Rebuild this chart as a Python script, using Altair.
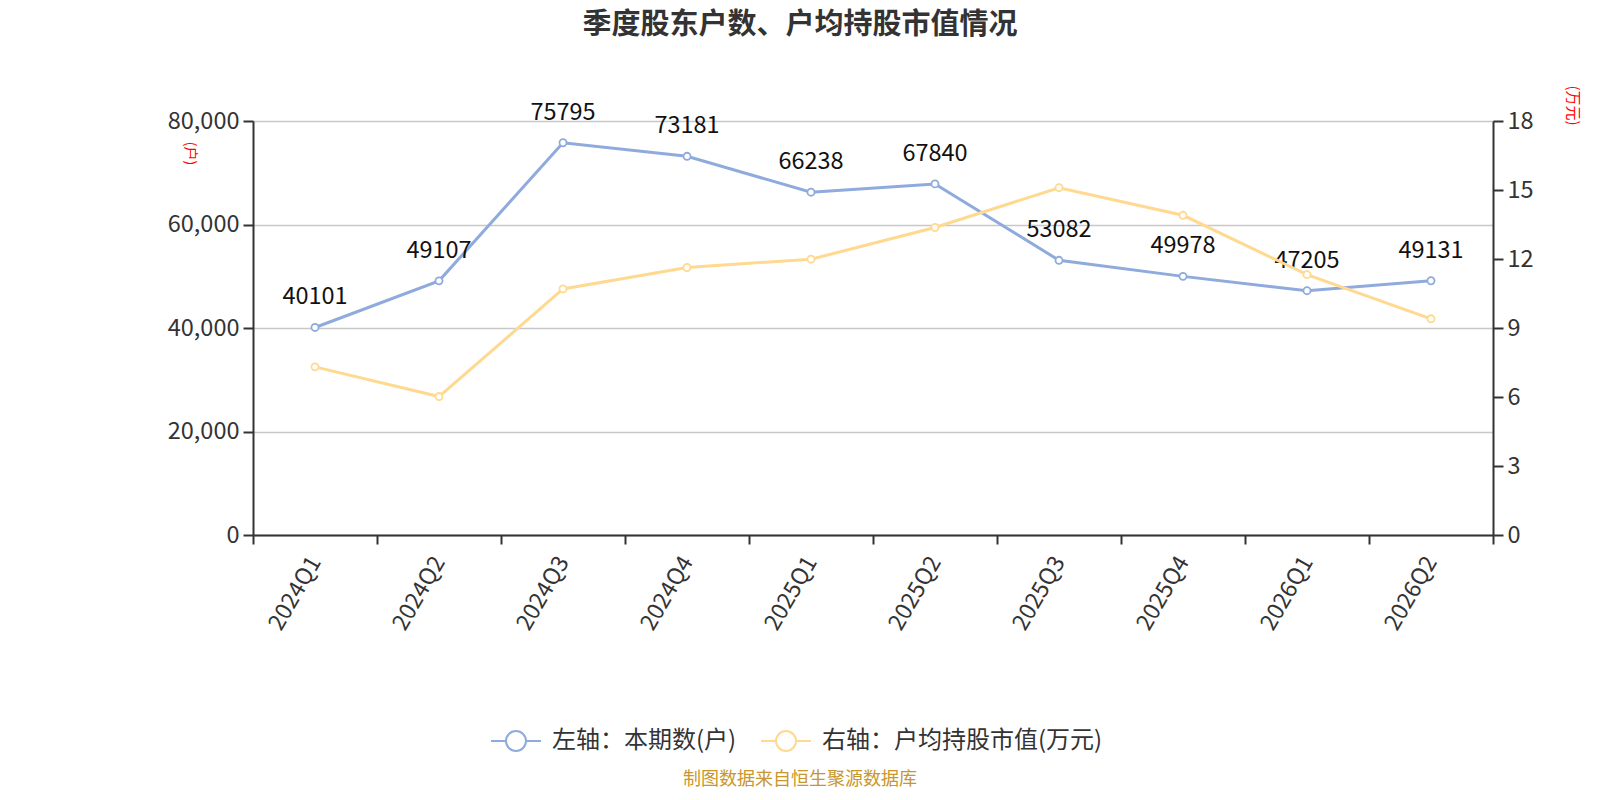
import altair as alt
import pandas as pd

quarters = ["2024Q1", "2024Q2", "2024Q3", "2024Q4", "2025Q1", "2025Q2",
            "2025Q3", "2025Q4", "2026Q1", "2026Q2"]
holders = [40101, 49107, 75795, 73181, 66238, 67840, 53082, 49978, 47205, 49131]
avg_value = [7.31, 6.02, 10.7, 11.63, 11.99, 13.37, 15.1, 13.9, 11.32, 9.4]
series_names = ["左轴：本期数(户)", "右轴：户均持股市值(万元)"]
series_colors = ["#8faadc", "#ffd98f"]
left_ticks = [0, 20000, 40000, 60000, 80000]
right_ticks = [0, 3, 6, 9, 12, 15, 18]

FONT = "Noto Sans CJK SC"
W, H = 1240, 414
LEFT, TOP = 245, 113
OX, OY = LEFT + 8, TOP + 8  # plot origin in page pixels

df1 = pd.DataFrame({"q": quarters, "v": holders, "s": series_names[0]})
df2 = pd.DataFrame({"q": quarters, "v": avg_value, "s": series_names[1]})

xenc = alt.X("q:N", sort=quarters, title=None,
             scale=alt.Scale(paddingInner=0, paddingOuter=0),
             axis=alt.Axis(labelAngle=-60, labelAlign="right", labelBaseline="middle",
                           labelFontSize=23, labelColor="#333", labelPadding=14,
                           labelFont=FONT,
                           tickBand="extent", tickSize=9, tickColor="#333", tickWidth=2,
                           domainColor="#333", domainWidth=2, grid=False))

color = alt.Color("s:N", scale=alt.Scale(domain=series_names, range=series_colors),
                  legend=alt.Legend(title=None, orient="none", direction="horizontal",
                                    legendX=490 - OX, legendY=715 - OY,
                                    symbolType="M-1,0L-0.4,0M0.4,0L1,0M-0.4,0A0.4,0.4,0,1,0,0.4,0A0.4,0.4,0,1,0,-0.4,0",
                                    symbolSize=2500, symbolFillColor="white",
                                    symbolStrokeWidth=2, labelFontSize=24,
                                    labelColor="#333", labelFont=FONT, labelLimit=600,
                                    columnPadding=20, labelOffset=10))

yleft = alt.Y("v:Q", title="(户)",
              scale=alt.Scale(domain=[0, 80000], nice=False),
              axis=alt.Axis(values=left_ticks, format=",.0f", labelFontSize=23.5,
                            labelColor="#333", labelFont=FONT, labelPadding=4,
                            tickSize=10, tickColor="#333", tickWidth=2,
                            domainColor="#333", domainWidth=2,
                            gridColor="#c8c8c8", gridWidth=1.5,
                            titleColor="red", titleFontSize=14, titleFontWeight="normal",
                            titleFont=FONT,
                            titleAngle=90, titleX=189 - OX, titleY=153 - OY,
                            titleAlign="center", titleBaseline="middle"))

yright = alt.Y("v:Q", title="(万元)",
               scale=alt.Scale(domain=[0, 18], nice=False),
               axis=alt.Axis(orient="right", values=right_ticks, labelFontSize=23.5,
                             labelColor="#333", labelFont=FONT, labelPadding=4,
                             tickSize=10, tickColor="#333", tickWidth=2,
                             domainColor="#333", domainWidth=2, grid=False,
                             titleColor="red", titleFontSize=15, titleFontWeight="normal",
                             titleFont=FONT,
                             titleAngle=90, titleX=1572 - (OX + W), titleY=105 - OY,
                             titleAlign="center", titleBaseline="middle"))

blue_line = alt.Chart(df1).mark_line(strokeWidth=3).encode(x=xenc, y=yleft, color=color)
blue_pts = alt.Chart(df1).mark_point(filled=True, fill="white", size=50, strokeWidth=1.8,
                                     opacity=1).encode(x=xenc, y=alt.Y("v:Q"),
                                                       stroke=alt.value(series_colors[0]))
blue_txt = alt.Chart(df1).mark_text(dy=-30, fontSize=23.5, color="#111", font=FONT,
                                    baseline="middle").encode(
    x=xenc, y=alt.Y("v:Q"), text=alt.Text("v:Q", format="d"))
blue = alt.layer(blue_line, blue_pts, blue_txt)

yel_line = alt.Chart(df2).mark_line(strokeWidth=3).encode(x=xenc, y=yright, color=color)
yel_pts = alt.Chart(df2).mark_point(filled=True, fill="white", size=50, strokeWidth=1.8,
                                    opacity=1).encode(x=xenc, y=alt.Y("v:Q"),
                                                      stroke=alt.value(series_colors[1]))
yel = alt.layer(yel_line, yel_pts)

src = pd.DataFrame({"t": ["制图数据来自恒生聚源数据库"]})
src_mark = alt.Chart(src).mark_text(fontSize=18, color="#c8962c", font=FONT,
                                    align="center", baseline="middle").encode(
    text="t:N", x=alt.value(800 - OX), y=alt.value(780 - OY))

chart = alt.layer(blue, yel, src_mark).resolve_scale(y="independent").properties(
    width=W, height=H,
    title=alt.TitleParams("季度股东户数、户均持股市值情况", anchor="middle", frame="group",
                          fontSize=29, fontWeight="bold", color="#333", font=FONT,
                          dx=800 - (OX + W / 2), offset=45),
    autosize=alt.AutoSizeParams(type="none"),
    padding={"left": LEFT, "top": TOP, "right": 1584 - LEFT - W, "bottom": 784 - TOP - H},
).configure_view(stroke=None).configure(font=FONT)

chart.save("out.html", embed_options={"renderer": "svg", "actions": False})
